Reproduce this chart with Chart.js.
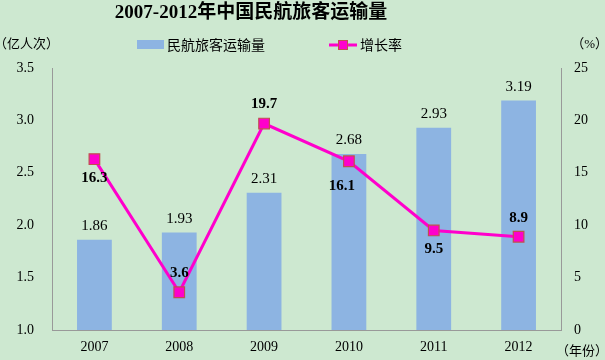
<!DOCTYPE html>
<html><head><meta charset="utf-8">
<script src="https://cdn.jsdelivr.net/npm/chart.js@4/dist/chart.umd.min.js"></script>
<style>html,body{margin:0;padding:0;background:#cde8d0;}#wrap{width:605px;height:360px;}</style>
</head><body><div id="wrap"><canvas id="c" width="605" height="360"></canvas></div>
<script>
const years = ['2007','2008','2009','2010','2011','2012'];
const passengers = [1.86, 1.93, 2.31, 2.68, 2.93, 3.19];
const growth = [16.3, 3.6, 19.7, 16.1, 9.5, 8.9];
const growthLabelPos = ['below','above','above','belowLeft','below','above'];
const titleText = '2007-2012年中国民航旅客运输量';
const barName = '民航旅客运输量';
const lineName = '增长率';
const leftUnit = '（亿人次）';
const rightUnit = '（%）';
const xUnit = '（年份）';

const SERIF = '"Liberation Serif","DejaVu Serif",serif';
const MIXED = '"Liberation Serif","Noto Sans CJK SC",serif';
const BAR = '#8db4e2';
const LINE = '#ff00cc';
const MARK_BORDER = '#c0504d';

const deco = {
  id:'deco',
  beforeDraw(chart){
    const c = chart.ctx; c.save();
    c.fillStyle = '#cde8d0'; c.fillRect(0,0,chart.width,chart.height);
    c.restore();
  },
  afterDatasetsDraw(chart){
    const c = chart.ctx; c.save();
    c.fillStyle = '#000';
    // title
    c.font = 'bold 19px ' + MIXED;
    c.textAlign = 'center'; c.textBaseline = 'middle';
    c.fillText(titleText, 251, 13);
    // units
    c.font = '13px ' + MIXED;
    c.textAlign = 'left';
    c.fillText(leftUnit, -6, 45);
    c.textAlign = 'right';
    c.fillText(rightUnit, 608, 45);
    c.fillText(xUnit, 608, 352);
    // legend
    c.fillStyle = BAR; c.fillRect(137, 40, 27, 9);
    c.fillStyle = '#000'; c.textAlign = 'left';
    c.font = '14px "Noto Sans CJK SC",sans-serif';
    c.fillText(barName, 167, 45);
    c.strokeStyle = LINE; c.lineWidth = 3;
    c.beginPath(); c.moveTo(329,45); c.lineTo(357,45); c.stroke();
    c.fillStyle = LINE; c.strokeStyle = MARK_BORDER; c.lineWidth = 1;
    c.fillRect(338,40,10,10); c.strokeRect(338.5,40.5,9,9);
    c.fillStyle = '#000';
    c.fillText(lineName, 360, 45);
    // bar labels
    const mb = chart.getDatasetMeta(0);
    c.font = '15px ' + SERIF; c.textAlign = 'center'; c.textBaseline = 'bottom';
    mb.data.forEach((el,i)=>{ c.fillText(passengers[i].toFixed(2), el.x, el.y - 6); });
    // line labels
    const ml = chart.getDatasetMeta(1);
    c.font = 'bold 15px ' + SERIF; c.textBaseline = 'middle';
    ml.data.forEach((el,i)=>{
      const p = growthLabelPos[i]; let x = el.x, y = el.y;
      if (p==='below') y += 19;
      else if (p==='above') y -= 19;
      else if (p==='belowLeft') { y += 25; x -= 7; }
      c.fillText(growth[i].toFixed(1), x, y);
    });
    c.restore();
  }
};

new Chart(document.getElementById('c'), {
  data: {
    labels: years,
    datasets: [
      { type:'bar', label:barName, data:passengers, backgroundColor:BAR, yAxisID:'y', order:2,
        categoryPercentage:1.0, barPercentage:0.41 },
      { type:'line', label:lineName, data:growth, yAxisID:'y1', order:1,
        borderColor:LINE, borderWidth:3, pointStyle:'rect', pointRadius:7.5, pointHoverRadius:7.5,
        pointBackgroundColor:LINE, pointBorderColor:MARK_BORDER, pointBorderWidth:1.2, tension:0 }
    ]
  },
  options: {
    responsive:false, animation:false, devicePixelRatio:1,
    layout:{ padding:{ top:68, left:0, right:0, bottom:0 } },
    plugins:{ legend:{display:false}, title:{display:false}, tooltip:{enabled:false} },
    scales:{
      x:{ grid:{display:false, drawTicks:false}, border:{color:'#999', width:1},
          ticks:{ color:'#000', font:{family:SERIF, size:14}, padding:9, maxRotation:0 },
          afterFit(s){ s.height = 30; } },
      y:{ position:'left', min:1.0, max:3.5, grid:{display:false, drawTicks:false}, border:{color:'#999', width:1},
          ticks:{ stepSize:0.5, color:'#000', font:{family:SERIF, size:14}, padding:18,
                  callback:v=>Number(v).toFixed(1) },
          afterFit(s){ s.width = 52; } },
      y1:{ position:'right', min:0, max:25, grid:{display:false, drawTicks:false}, border:{color:'#999', width:1},
          ticks:{ stepSize:5, color:'#000', font:{family:SERIF, size:14}, padding:13 },
          afterFit(s){ s.width = 44; } }
    }
  },
  plugins:[deco]
});
</script></body></html>
